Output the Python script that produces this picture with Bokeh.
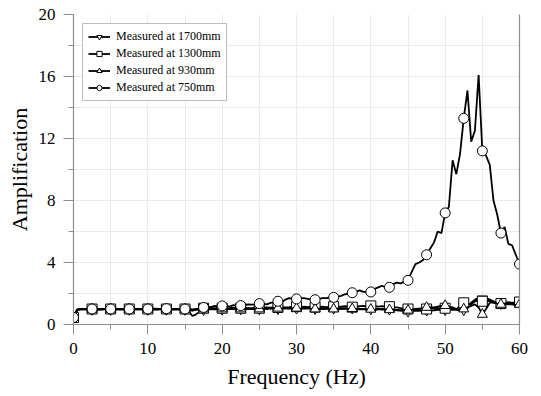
import numpy as np
from bokeh.plotting import figure
from bokeh.models import (Range1d, SingleIntervalTicker, FixedTicker, LinearAxis, Legend, LegendItem)
from bokeh.embed import file_html
from bokeh.resources import INLINE

# ---------------- data ----------------
freq = [round(i * 0.5, 1) for i in range(121)]  # 0 .. 60 Hz, 0.5 Hz steps

s1700 = [0.45, 0.95, 0.97, 0.97, 0.96, 0.97, 0.97, 0.96, 0.97, 0.97,
         0.97, 0.96, 0.97, 0.97, 0.96, 0.97, 0.97, 0.98, 0.97, 0.96,
         0.97, 0.97, 0.96, 0.97, 0.98, 0.97, 0.96, 0.97, 0.97, 0.95,
         0.97, 0.85, 0.55, 0.65, 0.85, 0.95, 0.97, 1.0, 0.98, 1.0,
         0.98, 1.0, 1.02, 1.0, 0.98, 1.0, 1.0, 1.02, 1.0, 1.0,
         1.0, 1.02, 1.0, 1.05, 1.05, 1.02, 1.05, 1.05, 1.02, 1.05,
         1.05, 1.05, 1.02, 1.05, 1.05, 1.02, 1.05, 1.05, 1.02, 1.05,
         1.05, 1.02, 1.05, 1.05, 1.02, 1.05, 1.05, 1.02, 1.0, 1.02,
         1.0, 1.02, 1.0, 0.98, 1.0, 0.98, 0.95, 0.92, 0.9, 0.88,
         0.85, 0.88, 0.9, 0.88, 0.9, 0.92, 0.9, 0.92, 0.95, 0.95,
         0.95, 0.97, 1.0, 0.95, 0.9, 0.95, 1.2, 1.4, 1.6, 1.7,
         1.65, 1.7, 1.6, 1.5, 1.4, 1.35, 1.4, 1.38, 1.35, 1.4,
         1.4]

s1300 = [0.45, 0.97, 1.0, 1.0, 0.99, 1.0, 1.0, 0.99, 1.0, 1.0,
         1.0, 0.99, 1.0, 1.0, 0.99, 1.0, 1.0, 1.0, 0.99, 1.0,
         1.0, 1.0, 0.99, 1.0, 1.0, 1.0, 0.99, 1.0, 1.0, 1.0,
         1.0, 1.0, 0.98, 1.0, 1.02, 1.05, 1.05, 1.02, 1.05, 1.05,
         1.05, 1.02, 1.05, 1.08, 1.05, 1.05, 1.08, 1.05, 1.05, 1.08,
         1.05, 1.08, 1.1, 1.08, 1.1, 1.1, 1.12, 1.1, 1.12, 1.15,
         1.15, 1.12, 1.15, 1.12, 1.15, 1.12, 1.1, 1.15, 1.12, 1.15,
         1.15, 1.12, 1.15, 1.18, 1.15, 1.12, 1.15, 1.18, 1.2, 1.18,
         1.2, 1.18, 1.15, 1.18, 1.15, 1.15, 1.12, 1.1, 1.05, 1.02,
         1.0, 0.98, 1.0, 1.02, 1.0, 1.0, 1.02, 1.05, 1.05, 1.02,
         1.05, 1.0, 0.95, 0.98, 1.2, 1.4, 1.35, 1.3, 1.5, 1.55,
         1.5, 1.55, 1.5, 1.4, 1.35, 1.35, 1.4, 1.45, 1.4, 1.45,
         1.45]

s930 = [0.45, 0.96, 0.98, 0.98, 0.97, 0.98, 0.98, 0.97, 0.98, 0.98,
        0.98, 0.97, 0.98, 0.98, 0.97, 0.98, 0.98, 0.98, 0.97, 0.98,
        0.98, 0.98, 0.97, 0.98, 0.98, 0.98, 0.97, 0.98, 0.98, 0.97,
        0.98, 0.95, 0.92, 0.95, 1.0, 1.0, 1.02, 1.05, 1.0, 1.02,
        1.0, 1.02, 1.0, 1.0, 1.02, 1.0, 1.0, 1.02, 1.0, 1.02,
        1.0, 1.02, 1.05, 1.02, 1.05, 1.05, 1.02, 1.05, 1.05, 1.05,
        1.05, 1.02, 1.05, 1.05, 1.02, 1.0, 1.02, 1.0, 1.02, 1.0,
        1.0, 1.02, 1.0, 1.02, 1.0, 1.02, 1.0, 0.98, 1.0, 0.98,
        0.98, 0.95, 0.98, 1.0, 0.98, 0.95, 0.98, 0.95, 0.92, 0.95,
        0.92, 0.95, 0.98, 1.0, 1.05, 1.1, 1.12, 1.1, 1.15, 1.2,
        1.22, 1.15, 1.1, 1.0, 0.95, 1.0, 1.1, 1.2, 1.3, 1.1,
        0.65, 1.0, 1.4, 1.45, 1.35, 1.3, 1.35, 1.3, 1.3, 1.25,
        1.3]

s750 = [0.45, 0.95, 1.0, 1.0, 0.98, 1.0, 1.0, 0.98, 1.0, 1.0,
        1.0, 1.02, 1.0, 0.98, 1.0, 1.0, 1.02, 1.0, 1.0, 0.98,
        1.0, 1.0, 1.02, 1.0, 1.0, 1.02, 1.0, 0.98, 1.0, 1.0,
        1.0, 0.95, 0.9, 0.98, 1.05, 1.1, 1.15, 1.12, 1.2, 1.15,
        1.2, 1.22, 1.15, 1.25, 1.2, 1.22, 1.25, 1.3, 1.28, 1.3,
        1.35, 1.35, 1.3, 1.4, 1.45, 1.5, 1.45, 1.6, 1.7, 1.65,
        1.65, 1.7, 1.7, 1.65, 1.6, 1.6, 1.65, 1.7, 1.7, 1.75,
        1.75, 1.8, 1.85, 1.95, 2.0, 2.05, 2.1, 2.2, 2.1, 2.1,
        2.1, 2.3, 2.4, 2.5, 2.4, 2.4, 2.6, 2.7, 2.65, 2.75,
        2.85, 3.4, 3.9, 4.0, 4.15, 4.5, 4.9, 5.3, 6.0, 5.9,
        7.2, 7.6, 10.6, 9.7, 11.0, 13.3, 15.1, 11.8, 12.5, 16.1,
        11.2, 10.9, 10.3, 8.0, 7.1, 5.9, 6.3, 5.2, 5.1, 4.5,
        3.9]

series_labels = ["Measured at 1700mm", "Measured at 1300mm",
                 "Measured at 930mm", "Measured at 750mm"]
series_markers = ["inverted_triangle", "square", "triangle", "circle"]
x_ticks_major = 10
y_ticks_major = 4
marker_every = 5  # a marker every 2.5 Hz

# ---------------- figure ----------------
FONT = "Liberation Serif"
AX = "#8c8c8c"
GRID = "#ebebeb"

p = figure(width=541, height=396, output_backend="svg", toolbar_location=None,
           x_range=Range1d(0, 60), y_range=Range1d(0, 20),
           min_border_left=73, min_border_right=22, min_border_top=14,
           min_border_bottom=72)
p.outline_line_color = None
p.background_fill_color = "white"
p.border_fill_color = "white"

p.xaxis.ticker = SingleIntervalTicker(interval=x_ticks_major, num_minor_ticks=2)
p.yaxis.ticker = SingleIntervalTicker(interval=y_ticks_major, num_minor_ticks=2)
p.xgrid.ticker = p.xaxis.ticker
p.ygrid.ticker = p.yaxis.ticker
for g in (p.xgrid, p.ygrid):
    g.grid_line_color = GRID
    g.minor_grid_line_color = GRID
    g.grid_line_width = 1
    g.minor_grid_line_width = 1

for ax in (p.xaxis, p.yaxis):
    ax.axis_line_color = AX
    ax.axis_line_width = 1.2
    ax.major_tick_line_color = AX
    ax.minor_tick_line_color = AX
    ax.major_tick_out = 10
    ax.major_tick_in = 0
    ax.minor_tick_out = 5
    ax.minor_tick_in = 0
    ax.major_label_text_font = FONT
    ax.major_label_text_font_size = "17px"
    ax.major_label_text_color = "black"
    ax.axis_label_text_font = FONT
    ax.axis_label_text_font_size = "22px"
    ax.axis_label_text_font_style = "normal"
    ax.axis_label_text_color = "black"
    ax.major_label_standoff = 8
p.xaxis.axis_label = "Frequency (Hz)"
p.yaxis.axis_label = "Amplification"
p.xaxis.axis_label_standoff = 7
p.yaxis.axis_label_standoff = 4

# right frame line
rax = LinearAxis(ticker=FixedTicker(ticks=[]))
rax.axis_line_color = AX
rax.axis_line_width = 1.2
rax.major_tick_line_color = None
rax.minor_tick_line_color = None
p.add_layout(rax, "right")

items = []
for vals, lab, mk in zip([s1700, s1300, s930, s750], series_labels, series_markers):
    ln = p.line(freq, vals, line_color="black", line_width=1.8)
    sc = p.scatter(freq[::marker_every], vals[::marker_every], marker=mk, size=10,
                   fill_color="white", line_color="black", line_width=1)
    items.append(LegendItem(label=lab, renderers=[ln, sc]))

legend = Legend(items=items, location="top_left")
legend.label_text_font = FONT
legend.label_text_font_size = "12px"
legend.label_text_color = "black"
legend.border_line_color = "#7a7a7a"
legend.border_line_width = 1
legend.background_fill_color = "white"
legend.background_fill_alpha = 1
legend.glyph_width = 22
legend.glyph_height = 13
legend.label_height = 13
legend.label_standoff = 6
legend.spacing = 2
legend.padding = 5
legend.margin = 9
p.add_layout(legend, "center")

open("out.html", "w").write(file_html(p, INLINE))
